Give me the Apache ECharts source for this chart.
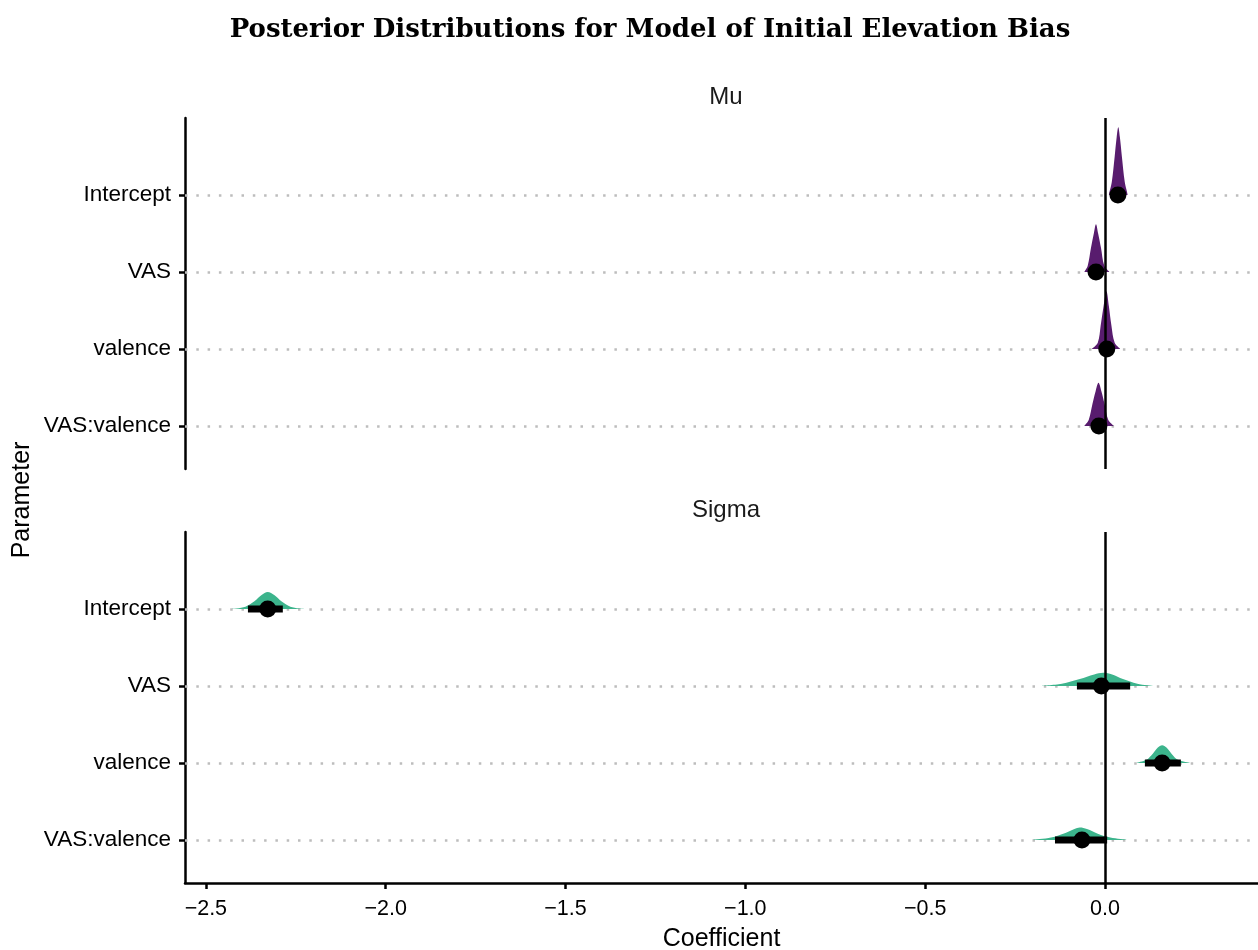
<!DOCTYPE html>
<html>
<head>
<meta charset="utf-8">
<script src="https://cdn.jsdelivr.net/npm/echarts@6/dist/echarts.min.js"></script>
<style>html,body{margin:0;padding:0;background:#fff}#c{width:1258px;height:950px}</style>
</head>
<body>
<div id="c"></div>
<script>
// ---- data ----
const paramNames = ['Intercept', 'VAS', 'valence', 'VAS:valence'];
const xTicks = [-2.5, -2.0, -1.5, -1.0, -0.5, 0.0];
const muPoint = [0.036, -0.025, 0.005, -0.017];
const muInterval = [[0.029, 0.043], [-0.032, -0.018], [-0.002, 0.012], [-0.025, -0.009]];
// density outlines: [coefficient, height in row units]
const muDensityIntercept = [[0.011,0],[0.019,0.17],[0.027,0.5],[0.0325,0.75],[0.037,0.88],[0.0415,0.75],[0.047,0.5],[0.055,0.17],[0.063,0]];
const muDensityVAS = [[-0.057,0],[-0.048,0.08],[-0.039,0.31],[-0.031,0.5],[-0.025,0.62],[-0.019,0.5],[-0.011,0.31],[-0.002,0.08],[0.012,0]];
const muDensityValence = [[-0.036,0],[-0.02,0.08],[-0.012,0.3],[-0.004,0.55],[0.004,0.75],[0.011,0.55],[0.018,0.3],[0.027,0.08],[0.042,0]];
const muDensityVASValence = [[-0.057,0],[-0.045,0.08],[-0.035,0.28],[-0.026,0.45],[-0.018,0.56],[-0.010,0.45],[-0.001,0.28],[0.009,0.08],[0.024,0]];
const sigmaPoint = [-2.328, -0.01, 0.159, -0.064];
const sigmaInterval = [[-2.383, -2.286], [-0.078, 0.070], [0.111, 0.211], [-0.139, 0.006]];
const sigmaDensityIntercept = [[-2.43,0],[-2.39,0.03],[-2.365,0.1],[-2.345,0.18],[-2.328,0.22],[-2.31,0.18],[-2.29,0.1],[-2.265,0.03],[-2.225,0]];
const sigmaDensityVAS = [[-0.18,0],[-0.12,0.03],[-0.07,0.09],[-0.03,0.15],[-0.005,0.17],[0.02,0.15],[0.05,0.09],[0.09,0.03],[0.135,0]];
const sigmaDensityValence = [[0.088,0],[0.115,0.04],[0.133,0.12],[0.147,0.2],[0.159,0.23],[0.171,0.2],[0.185,0.12],[0.203,0.04],[0.236,0]];
const sigmaDensityVASValence = [[-0.2,0],[-0.15,0.03],[-0.11,0.09],[-0.085,0.14],[-0.07,0.16],[-0.05,0.14],[-0.02,0.08],[0.015,0.03],[0.06,0]];
const muDensities = [muDensityIntercept, muDensityVAS, muDensityValence, muDensityVASValence];
const sigmaDensities = [sigmaDensityIntercept, sigmaDensityVAS, sigmaDensityValence, sigmaDensityVASValence];

const FONT = '"Liberation Sans", Arial, sans-serif';
const MU_COLOR = '#581c6e';
const SIGMA_COLOR = '#3cb48c';
const X_MIN = -2.558, X_MAX = 0.4255;
const Y_MIN = 0, Y_MAX = 4.56;

function densitySeries(gi, dens, color) {
  return {
    type: 'custom', xAxisIndex: gi, yAxisIndex: gi, z: 2, silent: true,
    data: paramNames.map((p, i) => [0, i + 1]),
    renderItem: function (params, api) {
      const row = api.value(1);
      const pts = dens[params.dataIndex].map(d => api.coord([d[0], row - d[1]]));
      const xs = pts.map(p => p[0]), ys = pts.map(p => p[1]);
      const bbox = [[Math.min(...xs), Math.min(...ys)], [Math.max(...xs), Math.max(...ys)]];
      return { type: 'polygon', shape: { points: pts, smooth: 0.35, smoothConstraint: bbox },
               style: { fill: color } };
    },
    markLine: {
      z: 1, silent: true, symbol: ['none', 'none'], label: { show: false }, animation: false,
      lineStyle: { color: '#bdbdbd', type: [2.5, 8.8], width: 2.5 },
      data: paramNames.map((p, i) => ({ yAxis: i + 1 }))
    }
  };
}
function intervalSeries(gi, iv) {
  return {
    type: 'custom', xAxisIndex: gi, yAxisIndex: gi, z: 4, silent: true,
    data: iv.map((r, i) => [r[0], i + 1, r[1]]),
    renderItem: function (params, api) {
      const a = api.coord([api.value(0), api.value(1)]);
      const b = api.coord([api.value(2), api.value(1)]);
      return { type: 'rect', shape: { x: a[0], y: a[1] - 3.5, width: b[0] - a[0], height: 7 },
               style: { fill: '#000' } };
    },
    markLine: {
      z: 3, silent: true, symbol: ['none', 'none'], label: { show: false }, animation: false,
      lineStyle: { color: '#000', type: 'solid', width: 2.5 },
      data: [{ xAxis: 0 }]
    }
  };
}
function pointSeries(gi, pts) {
  return {
    type: 'scatter', xAxisIndex: gi, yAxisIndex: gi, z: 5, silent: true,
    symbol: 'circle', symbolSize: 17, itemStyle: { color: '#000', opacity: 1 },
    data: pts.map((v, i) => [v, i + 1])
  };
}
function yAxisOpt(gi) {
  return {
    type: 'value', gridIndex: gi, inverse: true, min: Y_MIN, max: Y_MAX,
    axisLine: { show: true, onZero: false, lineStyle: { color: '#000', width: 2.5 } },
    axisTick: { show: true, length: 6, customValues: [1, 2, 3, 4], lineStyle: { color: '#000', width: 2.5 } },
    axisLabel: { customValues: [1, 2, 3, 4], formatter: v => paramNames[Math.round(v) - 1],
                 color: '#000', fontFamily: FONT, fontSize: 22.5, margin: 14 },
    splitLine: { show: false }
  };
}

const chart = echarts.init(document.getElementById('c'), null, { renderer: 'canvas' });
chart.setOption({
  animation: false,
  backgroundColor: '#fff',
  title: [
    { text: 'Posterior Distributions for Model of Initial Elevation Bias', left: 645, top: 12, textAlign: 'center',
      textStyle: { fontFamily: '"DejaVu Serif", serif', fontWeight: 'bold', fontSize: 26, color: '#000' } },
    { text: 'Mu', left: 721, top: 80, textAlign: 'center',
      textStyle: { fontFamily: FONT, fontWeight: 'normal', fontSize: 24, color: '#1a1a1a' } },
    { text: 'Sigma', left: 721, top: 493, textAlign: 'center',
      textStyle: { fontFamily: FONT, fontWeight: 'normal', fontSize: 24, color: '#1a1a1a' } }
  ],
  graphic: [{
    type: 'text', x: 22, y: 500, rotation: Math.PI / 2,
    style: { text: 'Parameter', fontFamily: FONT, fontSize: 25, fill: '#000', align: 'center', verticalAlign: 'middle' }
  }],
  grid: [
    { left: 185, right: 0, top: 118, height: 351, outerBoundsMode: 'none', containLabel: false },
    { left: 185, right: 0, top: 532, height: 351, outerBoundsMode: 'none', containLabel: false }
  ],
  xAxis: [
    { type: 'value', gridIndex: 0, min: X_MIN, max: X_MAX,
      axisLine: { show: false }, axisTick: { show: false }, axisLabel: { show: false }, splitLine: { show: false } },
    { type: 'value', gridIndex: 1, min: X_MIN, max: X_MAX,
      name: 'Coefficient', nameLocation: 'middle', nameGap: 44,
      nameTextStyle: { fontFamily: FONT, fontSize: 25, color: '#000' },
      axisLine: { show: true, onZero: false, lineStyle: { color: '#000', width: 2.5 } },
      axisTick: { show: true, length: 6, customValues: xTicks, lineStyle: { color: '#000', width: 2.5 } },
      axisLabel: { customValues: xTicks, formatter: v => (v < 0 ? '\u2212' : '') + Math.abs(v).toFixed(1),
                   color: '#000', fontFamily: FONT, fontSize: 21.5, margin: 15 },
      splitLine: { show: false } }
  ],
  yAxis: [yAxisOpt(0), yAxisOpt(1)],
  series: [
    densitySeries(0, muDensities, MU_COLOR),
    intervalSeries(0, muInterval),
    pointSeries(0, muPoint),
    densitySeries(1, sigmaDensities, SIGMA_COLOR),
    intervalSeries(1, sigmaInterval),
    pointSeries(1, sigmaPoint)
  ]
});
</script>
</body>
</html>
